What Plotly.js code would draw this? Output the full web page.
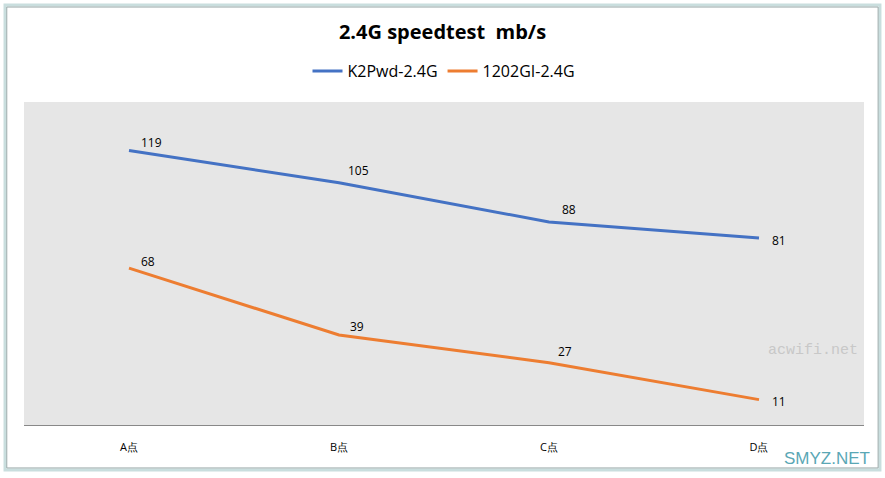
<!DOCTYPE html>
<html><head><meta charset="utf-8">
<script src="https://cdn.plot.ly/plotly-3.0.1.min.js"></script>
<style>html,body{margin:0;padding:0;background:#fff}#c{width:885px;height:478px}</style>
</head><body><div id="c"></div>
<script>
const categories = ["A点", "B点", "C点", "D点"];
const k2pwd = [119, 105, 88, 81];
const gi1202 = [68, 39, 27, 11];
const seriesNames = ["K2Pwd-2.4G", "1202GI-2.4G"];
const k2Shift = [[10, 8], [7, 12], [11, 12], [11, -2]];
const giShift = [[10, 7], [9, 9], [7, 11], [11, -2]];

const font = "Open Sans, Liberation Sans, sans-serif";
function tr(y, name, color) {
  return {
    x: categories, y: y, name: name, type: "scatter", mode: "lines",
    line: {color: color, width: 3}, hoverinfo: "skip"
  };
}
function labels(y, shifts) {
  return y.map((v, i) => ({
    x: categories[i], y: v, xref: "x", yref: "y", text: String(v), showarrow: false,
    xanchor: "left", yanchor: "middle", xshift: shifts[i][0], yshift: shifts[i][1],
    font: {family: font, size: 12, color: "#000"}
  }));
}
const data = [tr(k2pwd, seriesNames[0], "#4472c4"), tr(gi1202, seriesNames[1], "#ed7d31")];
const layout = {
  width: 885, height: 478,
  margin: {l: 24, r: 21, t: 102, b: 53},
  paper_bgcolor: "#fff", plot_bgcolor: "#e6e6e6",
  title: {text: "<b>2.4G speedtest  mb/s</b>", x: 0.5, xanchor: "center", y: 0.933, yanchor: "middle",
          font: {family: font, size: 20, color: "#000"}},
  showlegend: true,
  legend: {orientation: "h", x: 0.5, xanchor: "center", y: 1.096, yanchor: "middle",
           font: {family: font, size: 16, color: "#000"}, bgcolor: "rgba(0,0,0,0)", itemwidth: 30},
  xaxis: {type: "category", range: [-0.5, 3.5], showgrid: false, zeroline: false,
          showline: true, linecolor: "#888", linewidth: 1, ticks: "", ticklabelstandoff: 12,
          tickfont: {family: font, size: 11, color: "#000"}, fixedrange: true},
  yaxis: {range: [0, 140], visible: false, showgrid: false, zeroline: false, fixedrange: true},
  shapes: [
    {type: "rect", xref: "paper", yref: "paper", x0: -0.0226, x1: 1.019, y0: -0.139, y1: 1.300,
     line: {color: "#c9dede", width: 3}, fillcolor: "rgba(0,0,0,0)", layer: "below"},
    {type: "rect", xref: "paper", yref: "paper", x0: -0.0205, x1: 1.0168, y0: -0.133, y1: 1.294,
     line: {color: "#9aa9a9", width: 1}, fillcolor: "rgba(0,0,0,0)", layer: "below"}
  ],
  annotations: labels(k2pwd, k2Shift).concat(labels(gi1202, giShift)).concat([
    {text: "acwifi.net", xref: "paper", yref: "paper", x: 0.995, y: 0.23, xanchor: "right", yanchor: "middle",
     showarrow: false, font: {family: "Liberation Mono, monospace", size: 15, color: "#c8c8c8"}},
    {text: "SMYZ.NET", xref: "paper", yref: "paper", x: 1.01, y: -0.105, xanchor: "right", yanchor: "middle",
     showarrow: false, font: {family: "Liberation Sans Narrow, Liberation Sans, sans-serif", size: 17, color: "#5aa7b5"}}
  ])
};
Plotly.newPlot("c", data, layout, {displayModeBar: false, staticPlot: true});
</script></body></html>
